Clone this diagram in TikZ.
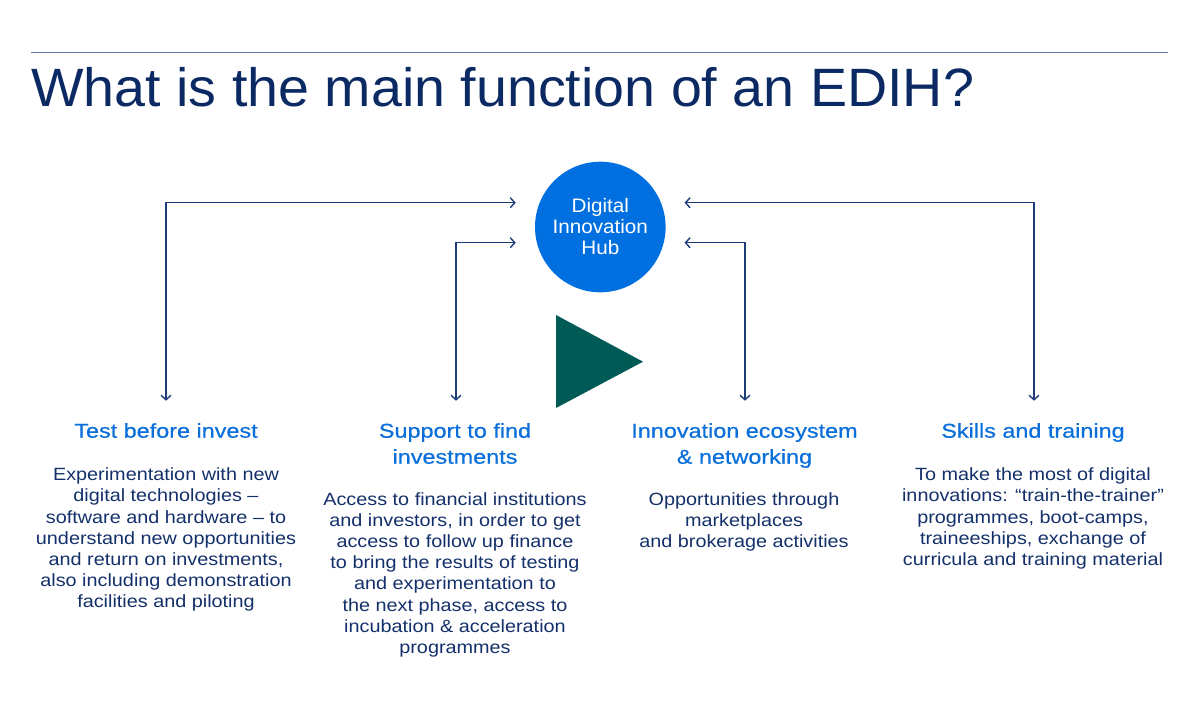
\documentclass[tikz,border=0pt]{standalone}
\usepackage{fontspec}
\usetikzlibrary{arrows.meta}
\setmainfont{Liberation Sans}
\newfontfamily\titlefont[FakeStretch=1.03]{Liberation Sans}
\newfontfamily\headfont[FakeStretch=1.17,FakeBold=0.6]{Liberation Sans}
\newfontfamily\bodyfont[FakeStretch=1.12]{Liberation Sans}
\newfontfamily\hubfont[FakeStretch=1.06]{Liberation Sans}
\definecolor{navy}{HTML}{0B2A63}
\definecolor{bodynavy}{HTML}{14306A}
\definecolor{linenavy}{HTML}{1D3C78}
\definecolor{rulecol}{HTML}{5A7BA8}
\definecolor{hubblue}{HTML}{0070E0}
\definecolor{headblue}{HTML}{0A6FDA}
\definecolor{tealc}{HTML}{005A55}
\tikzset{
  conn/.style={draw=linenavy, line width=1.4pt,
    {Straight Barb[length=4.5pt,width=10pt]}-{Straight Barb[length=4.5pt,width=10pt]}},
  headtxt/.style={inner sep=0pt, anchor=base, align=center, text=headblue,
    font=\headfont\fontsize{20}{26}\selectfont},
  bodytxt/.style={inner sep=0pt, anchor=base, align=center, text=bodynavy,
    font=\bodyfont\fontsize{17.7}{21.2}\selectfont},
}
\begin{document}
\begin{tikzpicture}[x=1pt,y=-1pt]
\useasboundingbox (0,0) rectangle (1200,724);
% top rule and title
\draw[rulecol, line width=1.2pt] (31,52.7) -- (1168,52.7);
\node[inner sep=0pt, anchor=base west, text=navy, font=\titlefont\fontsize{54}{54}\selectfont] (title) at (31,106.7) {What is the main function of an EDIH?};
% hub
\node[circle, fill=hubblue, minimum size=130.6pt, inner sep=0pt, align=center, text=white,
  font=\hubfont\fontsize{19.5}{21}\selectfont] (hub) at (600.3,227) {Digital\\Innovation\\Hub};
% triangle
\fill[tealc] (556,315) -- (556,408) -- (643,361.7) -- cycle;
% connector end points
\coordinate (hL1) at (515.7,202.7);
\coordinate (hL2) at (515.7,242.7);
\coordinate (hR1) at (684.6,202.7);
\coordinate (hR2) at (684.6,242.7);
\coordinate (t1) at (166,400.7);
\coordinate (t2) at (456,400.7);
\coordinate (t3) at (745,400.7);
\coordinate (t4) at (1034,400.7);
\draw[conn] (t1) |- (hL1);
\draw[conn] (t2) |- (hL2);
\draw[conn] (t3) |- (hR2);
\draw[conn] (t4) |- (hR1);
% headings (anchor = baseline of last line)
\node[headtxt] (h1) at (166,437.7) {Test before invest};
\node[headtxt] (h2) at (455,463.7) {Support to find\\investments};
\node[headtxt] (h3) at (744.5,463.7) {Innovation ecosystem\\\& networking};
\node[headtxt] (h4) at (1033,437.7) {Skills and training};
% bodies
\node[bodytxt] (b1) at (166,607.9) {Experimentation with new\\digital technologies –\\software and hardware – to\\understand new opportunities\\and return on investments,\\also including demonstration\\facilities and piloting};
\node[bodytxt] (b2) at (455,653.4) {Access to financial institutions\\and investors, in order to get\\access to follow up finance\\to bring the results of testing\\and experimentation to\\the next phase, access to\\incubation \& acceleration\\programmes};
\node[bodytxt] (b3) at (744,547.4) {Opportunities through\\marketplaces\\and brokerage activities};
\node[bodytxt] (b4) at (1033,565.5) {To make the most of digital\\innovations: “train-the-trainer”\\programmes, boot-camps,\\traineeships, exchange of\\curricula and training material};
\end{tikzpicture}
\end{document}
